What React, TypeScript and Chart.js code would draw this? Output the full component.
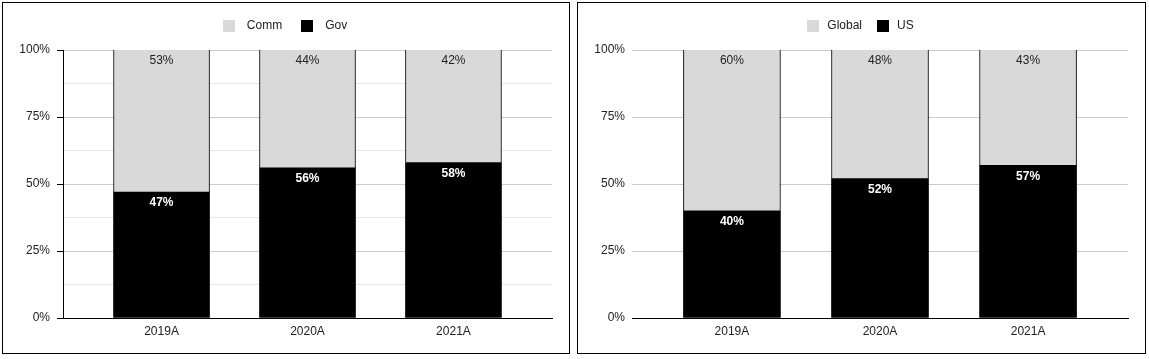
import React, { useEffect, useRef } from 'react';
import { Chart, registerables } from 'chart.js';

Chart.register(...registerables);

// ---- data ----
const categories = ['2019A', '2020A', '2021A'];
const govValues = [47, 56, 58];
const commValues = [53, 44, 42];
const usValues = [40, 52, 57];
const globalValues = [60, 48, 43];

const FONT = "'Liberation Sans', Arial, Helvetica, sans-serif";
const DARK = '#000000';
const LIGHT = '#d9d9d9';
const TEXT = '#222222';

Chart.defaults.font.family = FONT;
Chart.defaults.font.size = 12;
Chart.defaults.color = TEXT;

const swatchCache: Record<string, HTMLCanvasElement> = {};
function swatch(color: string): HTMLCanvasElement {
  if (!swatchCache[color]) {
    const c = document.createElement('canvas');
    c.width = 12;
    c.height = 12;
    const g = c.getContext('2d')!;
    g.fillStyle = color;
    g.fillRect(0, 0, 12, 12);
    swatchCache[color] = c;
  }
  return swatchCache[color];
}

const valueLabels = {
  id: 'valueLabels',
  afterDatasetsDraw(chart: any) {
    const ctx = chart.ctx;
    chart.data.datasets.forEach((ds: any, di: number) => {
      const meta = chart.getDatasetMeta(di);
      meta.data.forEach((bar: any, i: number) => {
        const v = ds.data[i].y;
        const dark = ds.backgroundColor === DARK;
        ctx.save();
        ctx.font = `${dark ? 'bold ' : ''}12px ${FONT}`;
        ctx.fillStyle = dark ? '#ffffff' : TEXT;
        ctx.textAlign = 'center';
        ctx.textBaseline = 'middle';
        ctx.fillText(`${v}%`, bar.x, Math.min(bar.y, bar.base) + 11);
        ctx.restore();
      });
    });
  },
};

type Spec = {
  lowerLabel: string;
  lowerValues: number[];
  upperLabel: string;
  upperValues: number[];
  minorGrid: boolean;
  yAxisLine: boolean;
  padLeft: number;
  yWidth: number;
  barThickness: number;
  legendSlot: number;
};

function makeConfig(s: Spec): any {
  const pad = 0.675;
  const toPts = (vals: number[]) => vals.map((v, i) => ({ x: i, y: v }));
  return {
    type: 'bar',
    data: {
      datasets: [
        {
          label: s.lowerLabel,
          data: toPts(s.lowerValues),
          backgroundColor: DARK,
          borderWidth: 0,
          barThickness: s.barThickness,
        },
        {
          label: s.upperLabel,
          data: toPts(s.upperValues),
          backgroundColor: LIGHT,
          borderColor: '#000000',
          borderWidth: { left: 1, right: 1, top: 0, bottom: 0 },
          borderSkipped: false,
          barThickness: s.barThickness,
        },
      ],
    },
    options: {
      responsive: false,
      animation: false,
      events: [],
      layout: { padding: { left: s.padLeft, right: 17, top: 4, bottom: 0 } },
      plugins: {
        tooltip: { enabled: false },
        legend: {
          position: 'top',
          align: 'center',
          reverse: true,
          labels: {
            usePointStyle: true,
            pointStyleWidth: s.legendSlot,
            padding: 13,
            color: TEXT,
            font: { size: 12, family: FONT },
            generateLabels: (chart: any) =>
              Chart.defaults.plugins.legend.labels
                .generateLabels(chart)
                .map((it: any) => ({
                  ...it,
                  pointStyle: swatch(chart.data.datasets[it.datasetIndex].backgroundColor),
                })),
          },
        },
      },
      scales: {
        x: {
          type: 'linear',
          stacked: true,
          offset: false,
          min: -pad,
          max: categories.length - 1 + pad,
          afterBuildTicks: (scale: any) => {
            scale.ticks = categories.map((_, i) => ({ value: i }));
          },
          afterFit: (scale: any) => {
            scale.height = 35;
          },
          grid: { display: false, drawTicks: false, offset: false },
          border: { display: true, color: '#000000', width: 1 },
          ticks: {
            padding: 6,
            maxRotation: 0,
            autoSkip: false,
            color: TEXT,
            callback: (v: number) => categories[v] ?? '',
          },
        },
        spacer: {
          type: 'linear',
          axis: 'x',
          position: 'top',
          display: true,
          offset: false,
          grid: { display: false, drawTicks: false },
          border: { display: false },
          ticks: { display: false },
          afterFit: (scale: any) => {
            scale.height = 8;
          },
        },
        y: {
          type: 'linear',
          stacked: true,
          min: 0,
          max: 100,
          afterBuildTicks: (scale: any) => {
            const step = s.minorGrid ? 12.5 : 25;
            const t: any[] = [];
            for (let v = 0; v <= 100; v += step) t.push({ value: v });
            scale.ticks = t;
          },
          afterFit: (scale: any) => {
            scale.width = s.yWidth;
          },
          grid: {
            drawTicks: s.yAxisLine,
            tickLength: 6,
            color: (c: any) =>
              c.tick.value === 0 ? '#000000' : c.tick.value % 25 === 0 ? '#cccccc' : '#e6e6e6',
            tickColor: (c: any) => (c.tick.value % 25 === 0 ? '#000000' : 'rgba(0,0,0,0)'),
          },
          border: { display: s.yAxisLine, color: '#000000', width: 1 },
          ticks: {
            padding: 7,
            color: TEXT,
            autoSkip: false,
            callback: (v: number) => (v % 25 === 0 ? `${v}%` : ''),
          },
        },
      },
    },
    plugins: [valueLabels],
  };
}

function ChartBox({ spec, left, width }: { spec: Spec; left: number; width: number }) {
  const ref = useRef<HTMLCanvasElement>(null);
  useEffect(() => {
    const chart = new Chart(ref.current!, makeConfig(spec));
    return () => chart.destroy();
  }, []);
  return (
    <div
      style={{
        position: 'absolute',
        left,
        top: 2,
        width,
        height: 350,
        border: '1px solid #000',
        background: '#fff',
      }}
    >
      <canvas ref={ref} width={width} height={350} style={{ display: 'block' }} />
    </div>
  );
}

export default function App() {
  const leftSpec: Spec = {
    lowerLabel: 'Gov',
    lowerValues: govValues,
    upperLabel: 'Comm',
    upperValues: commValues,
    minorGrid: true,
    yAxisLine: true,
    padLeft: 9,
    yWidth: 51,
    barThickness: 96,
    legendSlot: 24,
  };
  const rightSpec: Spec = {
    lowerLabel: 'US',
    lowerValues: usValues,
    upperLabel: 'Global',
    upperValues: globalValues,
    minorGrid: false,
    yAxisLine: false,
    padLeft: 13,
    yWidth: 41,
    barThickness: 97,
    legendSlot: 16,
  };
  return (
    <div style={{ position: 'absolute', left: 0, top: 0, width: 1149, height: 359, background: '#fff' }}>
      <ChartBox spec={leftSpec} left={2} width={566} />
      <ChartBox spec={rightSpec} left={577} width={567} />
    </div>
  );
}
